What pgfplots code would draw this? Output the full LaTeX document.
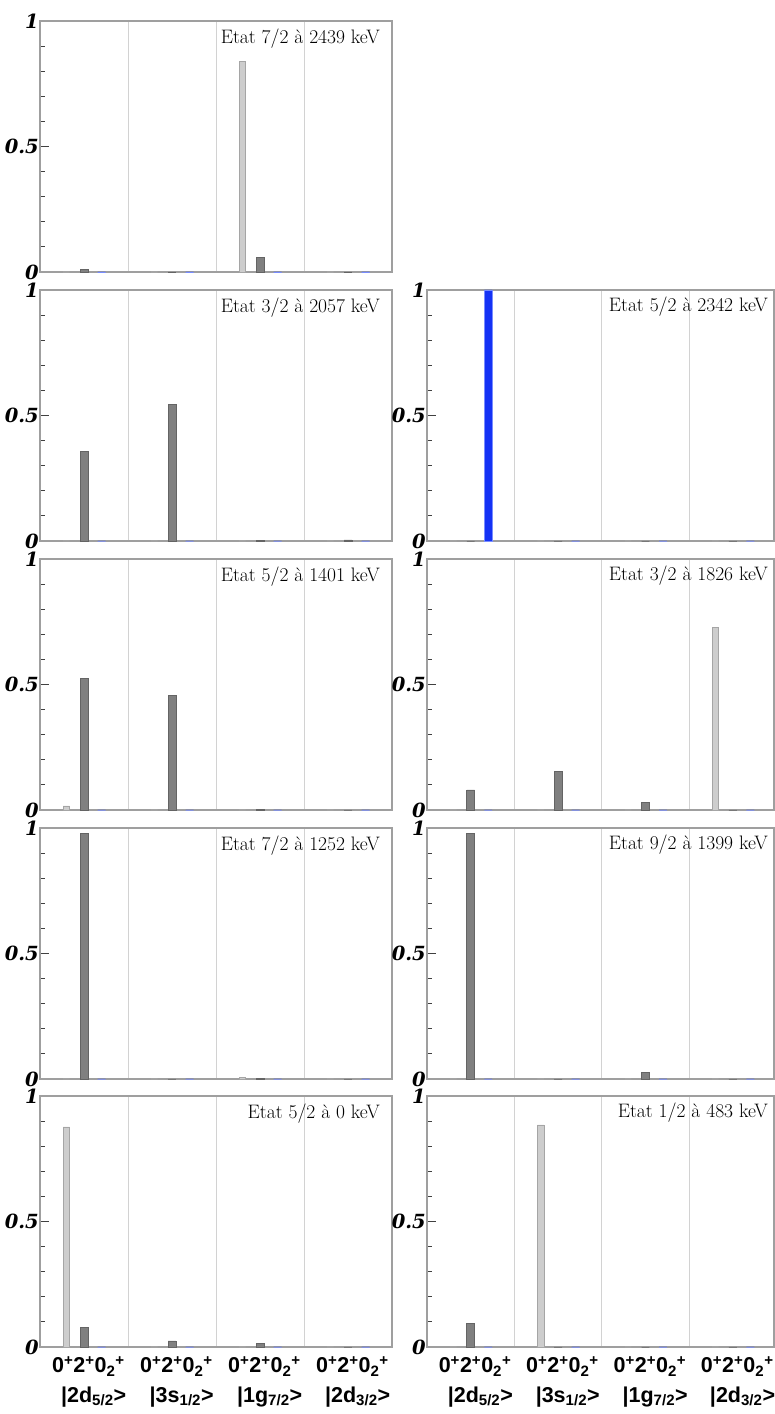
\documentclass[border=0pt]{standalone}
\usepackage{pgfplots}
\pgfplotsset{compat=1.18}
\usepackage{pgfplotstable}
\usepackage{fontspec}
\newfontfamily\tickfont{DejaVu Serif}
\newfontfamily\labfont{Liberation Sans}

\definecolor{lightbar}{RGB}{205,205,205}
\definecolor{lightedge}{RGB}{165,165,165}
\definecolor{darkbar}{RGB}{128,128,128}
\definecolor{darkedge}{RGB}{100,100,100}
\definecolor{bluebar}{RGB}{20,50,245}
\definecolor{blueedge}{RGB}{120,140,255}

% g = group (0..3); a = 0+, b = 2+, c = 0_2+
\pgfplotstableread{
g a b c
0 0 0.009 0
1 0 0 0
2 0.838 0.059 0
3 0 0 0
}\tA
\pgfplotstableread{
g a b c
0 0 0.356 0
1 0 0.543 0
2 0 0.003 0
3 0 0.004 0
}\tB
\pgfplotstableread{
g a b c
0 0 0 1.0
1 0 0 0
2 0 0 0
3 0 0 0
}\tC
\pgfplotstableread{
g a b c
0 0.016 0.525 0
1 0 0.456 0
2 0 0.003 0
3 0 0 0
}\tD
\pgfplotstableread{
g a b c
0 0 0.080 0
1 0 0.152 0
2 0 0.029 0
3 0.726 0 0
}\tE
\pgfplotstableread{
g a b c
0 0 0.979 0
1 0 0 0
2 0.006 0.003 0
3 0 0 0
}\tF
\pgfplotstableread{
g a b c
0 0 0.979 0
1 0 0 0
2 0 0.025 0
3 0 0 0
}\tG
\pgfplotstableread{
g a b c
0 0.877 0.079 0
1 0 0.024 0
2 0 0.013 0
3 0 0 0
}\tH
\pgfplotstableread{
g a b c
0 0 0.095 0
1 0.885 0 0
2 0 0 0
3 0 0 0
}\tI

\tikzset{ttl/.style={anchor=base east, inner sep=0pt, font=\fontsize{19.5}{19.5}\selectfont}}

\pgfplotsset{
  panel/.style={
    scale only axis, height=251pt, anchor=south west,
    xmin=0, ymin=0, ymax=1,
    ytick={0,0.5,1}, yticklabels={0,0.5,1},
    minor ytick={0.1,0.2,0.3,0.4,0.6,0.7,0.8,0.9},
    tick align=inside, ytick pos=left, xtick pos=bottom,
    major tick length=9pt, minor tick length=5pt,
    xtick={0.55,1.55,2.55,3.55}, xticklabels={,,,},
    minor xtick={1,2,3}, xminorgrids=true,
    minor grid style={gray!35, line width=0.8pt},
    minor x tick style={draw=none},
    major x tick style={draw=none},
    axis line style={gray!75, line width=1.3pt},
    y tick style={gray!50!black, line width=0.8pt},
    yticklabel style={font=\tickfont\bfseries\itshape\fontsize{19.5}{19.5}\selectfont, inner sep=1pt},
    /pgf/number format/assume math mode=true,
    clip=false,
  },
  leftp/.style={panel, width=352pt, xmax=4},
  rightp/.style={panel, width=347pt, xmax=3.97},
  bottomlabels/.style={
    xticklabels={
      0\textsuperscript{+}2\textsuperscript{+}0\textsubscript{2}\textsuperscript{+},
      0\textsuperscript{+}2\textsuperscript{+}0\textsubscript{2}\textsuperscript{+},
      0\textsuperscript{+}2\textsuperscript{+}0\textsubscript{2}\textsuperscript{+},
      0\textsuperscript{+}2\textsuperscript{+}0\textsubscript{2}\textsuperscript{+}},
    xticklabel style={font=\labfont\bfseries\fontsize{21.5}{21.5}\selectfont, anchor=base, inner sep=0pt, yshift=-26pt},
    extra x ticks={0.61,1.61,2.61,3.61},
    extra x tick labels={
      |2d\textsubscript{5/2}>, |3s\textsubscript{1/2}>, |1g\textsubscript{7/2}>, |2d\textsubscript{3/2}>},
    extra x tick style={grid=none, major x tick style={draw=none}, xticklabel style={yshift=-29pt}},
  },
  lb/.style={ybar, bar shift=0pt, bar width=0.075, fill=lightbar, draw=lightedge, line width=0.7pt},
  db/.style={ybar, bar shift=0pt, bar width=0.09, fill=darkbar, draw=darkedge, line width=0.7pt},
  bb/.style={ybar, bar shift=0pt, bar width=0.09, fill=bluebar, draw=blueedge, line width=0.7pt},
}

\newcommand{\bars}[1]{%
  \addplot[lb] table[x expr=\thisrow{g}+0.3, y=a] {#1};
  \addplot[db] table[x expr=\thisrow{g}+0.5, y=b] {#1};
  \addplot[bb] table[x expr=\thisrow{g}+0.7, y=c] {#1};
}

\begin{document}
\begin{tikzpicture}
\useasboundingbox (0,0) rectangle (774pt,1414pt);

% Row 1
\begin{axis}[leftp, at={(40pt,1142pt)}]
\bars{\tA}
\node[ttl] at (rel axis cs:0.966,0.91) {Etat 7/2 à 2439 keV};
\end{axis}

% Row 2
\begin{axis}[leftp, at={(40pt,873pt)}]
\bars{\tB}
\node[ttl] at (rel axis cs:0.966,0.91) {Etat 3/2 à 2057 keV};
\end{axis}
\begin{axis}[rightp, at={(427pt,873pt)}]
\bars{\tC}
\node[ttl] at (rel axis cs:0.983,0.915) {Etat 5/2 à 2342 keV};
\end{axis}

% Row 3
\begin{axis}[leftp, at={(40pt,604pt)}]
\bars{\tD}
\node[ttl] at (rel axis cs:0.966,0.91) {Etat 5/2 à 1401 keV};
\end{axis}
\begin{axis}[rightp, at={(427pt,604pt)}]
\bars{\tE}
\node[ttl] at (rel axis cs:0.983,0.915) {Etat 3/2 à 1826 keV};
\end{axis}

% Row 4
\begin{axis}[leftp, at={(40pt,335pt)}]
\bars{\tF}
\node[ttl] at (rel axis cs:0.966,0.91) {Etat 7/2 à 1252 keV};
\end{axis}
\begin{axis}[rightp, at={(427pt,335pt)}]
\bars{\tG}
\node[ttl] at (rel axis cs:0.983,0.915) {Etat 9/2 à 1399 keV};
\end{axis}

% Row 5
\begin{axis}[leftp, bottomlabels, at={(40pt,67pt)}]
\bars{\tH}
\node[ttl] at (rel axis cs:0.966,0.91) {Etat 5/2 à 0 keV};
\end{axis}
\begin{axis}[rightp, bottomlabels, at={(427pt,67pt)}]
\bars{\tI}
\node[ttl] at (rel axis cs:0.983,0.915) {Etat 1/2 à 483 keV};
\end{axis}
\end{tikzpicture}
\end{document}
